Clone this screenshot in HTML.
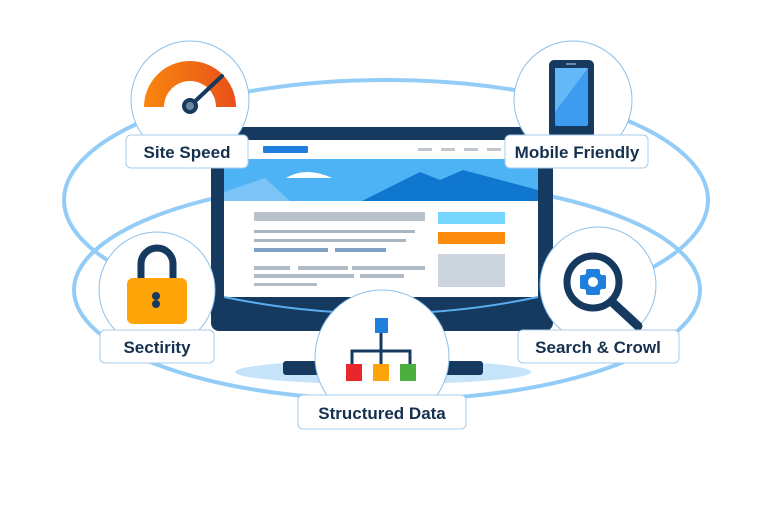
<!DOCTYPE html>
<html><head><meta charset="utf-8"><style>
html,body{margin:0;padding:0;background:#fff}
svg{display:block}
text{font-family:"Liberation Sans",sans-serif;font-weight:bold;fill:#16304f}
</style></head><body>
<svg width="768" height="512" viewBox="0 0 768 512" xmlns="http://www.w3.org/2000/svg">
<defs>
<linearGradient id="g1" x1="0" x2="1" y1="0" y2="0"><stop offset="0" stop-color="#f9870e"/><stop offset="1" stop-color="#e8501a"/></linearGradient>
</defs>
<ellipse cx="386" cy="200" rx="322" ry="120" fill="none" stroke="#93cdf7" stroke-width="4"/>
<ellipse cx="387" cy="290" rx="313" ry="110" fill="none" stroke="#93cdf7" stroke-width="4"/>
<ellipse cx="383" cy="372" rx="148" ry="12" fill="#c5e3f9"/>
<rect x="283" y="361" width="200" height="14" rx="3" fill="#163a5f"/>
<rect x="211" y="127" width="342" height="204" rx="8" fill="#163a5f"/>
<rect x="224" y="140" width="314" height="157" fill="#fff"/>
<path d="M224 297 Q384 330 538 297" fill="none" stroke="#5aaef0" stroke-width="2"/>
<rect x="263" y="146" width="45" height="7" rx="1" fill="#1e7fdc"/>
<g fill="#c0c7cf"><rect x="418" y="148" width="14" height="3"/><rect x="441" y="148" width="14" height="3"/><rect x="464" y="148" width="14" height="3"/><rect x="487" y="148" width="14" height="3"/></g>
<rect x="224" y="159" width="314" height="42" fill="#4eb3f4"/>
<path d="M224 192 L265 178 L290 201 L224 201Z" fill="#7cc4f8"/>
<path d="M362 201 L420 172 L440 180 L463 170 L538 190 L538 201Z" fill="#0f77cf"/>
<path d="M286 178 Q306 166 332 178Z" fill="#fff"/>
<rect x="254" y="212" width="171" height="9" rx="1" fill="#b8c1ca"/>
<g fill="#a9b6c2"><rect x="254" y="230" width="161" height="3"/><rect x="254" y="239" width="152" height="3"/></g>
<g fill="#7fa0c3"><rect x="254" y="248" width="74" height="4"/><rect x="335" y="248" width="51" height="4"/></g>
<g fill="#b2bcc6"><rect x="254" y="266" width="36" height="4"/><rect x="298" y="266" width="50" height="4"/><rect x="352" y="266" width="73" height="4"/><rect x="254" y="274" width="100" height="4"/><rect x="360" y="274" width="44" height="4"/><rect x="254" y="283" width="63" height="3"/></g>
<rect x="438" y="212" width="67" height="12" fill="#77d6fd"/>
<rect x="438" y="232" width="67" height="12" fill="#fb8a0d"/>
<rect x="438" y="254" width="67" height="33" fill="#ccd5dd"/>
<g fill="#fff" stroke="#8cc0ea" stroke-width="1">
<circle cx="190" cy="100" r="59"/>
<circle cx="573" cy="100" r="59"/>
<circle cx="157" cy="290" r="58"/>
<circle cx="598" cy="285" r="58"/>
<circle cx="382" cy="357" r="67"/>
</g>
<path d="M144 107 A46 46 0 0 1 236 107 L216 107 A26 26 0 0 0 164 107Z" fill="url(#g1)"/>
<line x1="190" y1="106" x2="222" y2="76" stroke="#163a5f" stroke-width="4" stroke-linecap="round"/>
<circle cx="190" cy="106" r="8" fill="#163a5f"/><circle cx="190" cy="106" r="4" fill="#6d86a3"/>
<rect x="549" y="60" width="45" height="78" rx="5" fill="#163a5f"/>
<rect x="555" y="68" width="33" height="58" rx="2" fill="#3d9cf0"/>
<path d="M555 68 L588 68 L555 112Z" fill="#64b8f8"/>
<rect x="566" y="63" width="10" height="2" fill="#6d86a3"/>
<path d="M141 280 V264 A16 16 0 0 1 173 264 V280" fill="none" stroke="#163a5f" stroke-width="7"/>
<rect x="127" y="278" width="60" height="46" rx="6" fill="#fea308"/>
<circle cx="156" cy="296" r="4" fill="#163a5f"/><circle cx="156" cy="304" r="4" fill="#163a5f"/>
<line x1="612" y1="302" x2="638" y2="326" stroke="#163a5f" stroke-width="9" stroke-linecap="round"/>
<circle cx="593" cy="282" r="26" fill="#fff" stroke="#163a5f" stroke-width="7"/>
<g fill="#1e7fdc"><rect x="586" y="269" width="14" height="26" rx="2"/><rect x="580" y="275" width="26" height="14" rx="2"/><circle cx="593" cy="282" r="11"/></g>
<circle cx="593" cy="282" r="5" fill="#fff"/>
<rect x="375" y="318" width="13" height="15" fill="#1e7fdc"/>
<path d="M381 333 V364 M352 364 V351 H410 V364" fill="none" stroke="#163a5f" stroke-width="3"/>
<rect x="346" y="364" width="16" height="17" fill="#e8262c"/>
<rect x="373" y="364" width="16" height="17" fill="#fea308"/>
<rect x="400" y="364" width="16" height="17" fill="#4bae3f"/>
<g fill="#fff" stroke="#a9cbe8" stroke-width="1">
<rect x="126" y="135" width="122" height="33" rx="5"/>
<rect x="505" y="135" width="143" height="33" rx="5"/>
<rect x="100" y="330" width="114" height="33" rx="5"/>
<rect x="518" y="330" width="161" height="33" rx="5"/>
<rect x="298" y="395" width="168" height="34" rx="5"/>
</g>
<g font-size="17" text-anchor="middle">
<text x="187" y="158">Site Speed</text>
<text x="577" y="158">Mobile Friendly</text>
<text x="157" y="353">Sectirity</text>
<text x="598" y="353">Search &amp; Crowl</text>
<text x="382" y="419">Structured Data</text>
</g>
</svg>
</body></html>
